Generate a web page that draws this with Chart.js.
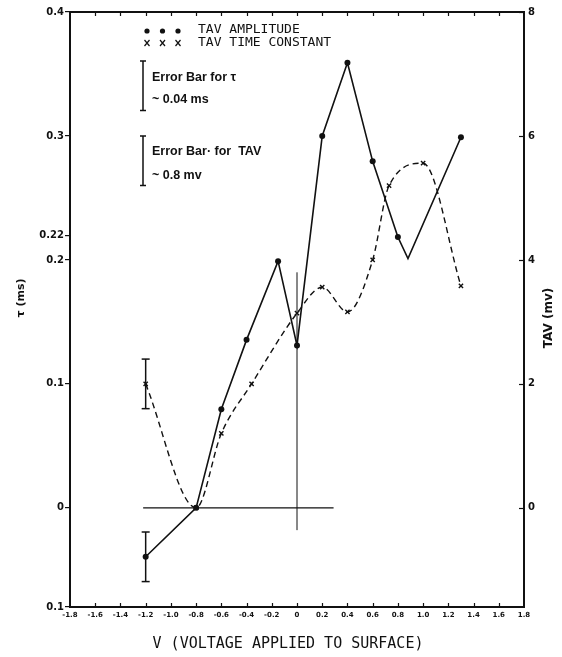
<!DOCTYPE html>
<html>
<head>
<meta charset="utf-8">
<script src="https://cdn.jsdelivr.net/npm/chart.js@4.4.1/dist/chart.umd.min.js"></script>
<style>
  html, body { margin: 0; padding: 0; background: #fff; }
</style>
</head>
<body>
<canvas id="tavChart" width="562" height="657"></canvas>
<script>
// TAV amplitude (mv, right axis) vs applied voltage
const tavVolts = [-1.2, -0.8, -0.6, -0.4, -0.15, 0, 0.2, 0.4, 0.6, 0.8, 0.88, 1.3];
const tavAmplitude = [-0.79, 0, 1.59, 2.71, 3.98, 2.62, 6.0, 7.18, 5.59, 4.37, 4.02, 5.98];
const tavBendVolt = 0.88; // the line bends here, no measured point

// TAV time constant tau (ms, left axis)
const tauVolts = [-1.2, -0.8, -0.6, -0.36, 0, 0.2, 0.4, 0.6, 0.73, 1.0, 1.3];
const tauValues = [0.1, 0, 0.06, 0.1, 0.157, 0.178, 0.158, 0.2, 0.26, 0.278, 0.179];

// error bars at V = -1.2
const errVolt = -1.2;
const tauErr = 0.02; // +- ms
const tavErr = 0.4;  // +- mv
const tauErrSpan = 0.04;
const tavErrSpan = 0.8;

// reference cross lines
const zeroLineVolts = [-1.22, 0.29];
const zeroLineTau = [-0.018, 0.19];

// tick labels
const xTickValues = [-1.8, -1.6, -1.4, -1.2, -1.0, -0.8, -0.6, -0.4, -0.2, 0, 0.2, 0.4, 0.6, 0.8, 1.0, 1.2, 1.4, 1.6, 1.8];
const xTickLabels = ["-1.8", "-1.6", "-1.4", "-1.2", "-1.0", "-0.8", "-0.6", "-0.4", "-0.2", "0", "0.2", "0.4", "0.6", "0.8", "1.0", "1.2", "1.4", "1.6", "1.8"];
const tauTickValues = [-0.08, 0, 0.1, 0.2, 0.22, 0.3, 0.4];
const tauTickLabels = ["0.1", "0", "0.1", "0.2", "0.22", "0.3", "0.4"];
const tavTickValues = [0, 2, 4, 6, 8];
const tavTickLabels = ["0", "2", "4", "6", "8"];

const INK = "#111";
const tickFont = { family: "'DejaVu Sans'", weight: "bold" };

function pts(xs, ys) {
  return xs.map((x, i) => ({ x: x, y: ys[i] }));
}

// frame, inward ticks, legend and axis titles
const decorations = {
  id: "decorations",
  afterDraw(chart) {
    const { ctx, chartArea: area, scales } = chart;
    const x = scales.x, yTau = scales.yTau, yTav = scales.yTav;
    ctx.save();
    ctx.strokeStyle = INK;
    ctx.fillStyle = INK;

    // top frame line
    ctx.lineWidth = 2;
    ctx.beginPath();
    ctx.moveTo(area.left, area.top);
    ctx.lineTo(area.right, area.top);
    ctx.stroke();

    // inward ticks top and bottom
    ctx.lineWidth = 1.2;
    xTickValues.slice(1, -1).forEach((v) => {
      const px = Math.round(x.getPixelForValue(v)) + 0.5;
      ctx.beginPath();
      ctx.moveTo(px, area.bottom);
      ctx.lineTo(px, area.bottom - 4);
      ctx.moveTo(px, area.top);
      ctx.lineTo(px, area.top + 4);
      ctx.stroke();
    });
    // inward ticks on right axis
    tavTickValues.forEach((v) => {
      const py = Math.round(yTav.getPixelForValue(v)) + 0.5;
      ctx.beginPath();
      ctx.moveTo(area.right, py);
      ctx.lineTo(area.right - 5, py);
      ctx.stroke();
    });

    // legend: markers
    const lx = 147;
    for (let i = 0; i < 3; i++) {
      ctx.beginPath();
      ctx.arc(lx + i * 15.5, 31, 2.6, 0, Math.PI * 2);
      ctx.fill();
      const cx = lx + i * 15.5, cy = 43;
      ctx.lineWidth = 1.2;
      ctx.beginPath();
      ctx.moveTo(cx - 2.5, cy - 3); ctx.lineTo(cx + 2.5, cy + 3);
      ctx.moveTo(cx + 2.5, cy - 3); ctx.lineTo(cx - 2.5, cy + 3);
      ctx.stroke();
    }
    ctx.font = "13px 'DejaVu Sans Mono'";
    ctx.textBaseline = "middle";
    ctx.textAlign = "left";
    ctx.fillText("TAV AMPLITUDE", 198, 30);
    ctx.fillText("TAV TIME CONSTANT", 198, 43);

    // legend: error bar keys, sized on the axes
    const tauLen = yTau.getPixelForValue(0) - yTau.getPixelForValue(tauErrSpan);
    const tavLen = yTav.getPixelForValue(0) - yTav.getPixelForValue(tavErrSpan);
    const bar = (bx, top, len) => {
      ctx.lineWidth = 1.5;
      ctx.beginPath();
      ctx.moveTo(bx, top); ctx.lineTo(bx, top + len);
      ctx.moveTo(bx - 3, top); ctx.lineTo(bx + 3, top);
      ctx.moveTo(bx - 3, top + len); ctx.lineTo(bx + 3, top + len);
      ctx.stroke();
    };
    bar(143, 61, tauLen);
    bar(143, 136, tavLen);
    ctx.font = "bold 12.5px 'Liberation Sans'";
    ctx.fillText("Error Bar for \u03c4", 152, 78);
    ctx.fillText("~ 0.04 ms", 152, 100);
    ctx.fillText("Error Bar\u00b7 for  TAV", 152, 152);
    ctx.fillText("~ 0.8 mv", 152, 176);

    // axis titles
    ctx.textAlign = "center";
    ctx.font = "15px 'DejaVu Sans Mono'";
    ctx.fillText("V (VOLTAGE APPLIED TO SURFACE)", 288, 644);

    ctx.font = "bold 11px 'DejaVu Sans'";
    ctx.save();
    ctx.translate(21, 298);
    ctx.rotate(-Math.PI / 2);
    ctx.fillText("\u03c4 (ms)", 0, 0);
    ctx.restore();

    ctx.font = "bold 12px 'DejaVu Sans'";
    ctx.save();
    ctx.translate(549, 318);
    ctx.rotate(-Math.PI / 2);
    ctx.fillText("TAV (mv)", 0, 0);
    ctx.restore();

    ctx.restore();
  },
};

const ctx = document.getElementById("tavChart").getContext("2d");

new Chart(ctx, {
  type: "line",
  data: {
    datasets: [
      {
        label: "TAV AMPLITUDE",
        data: pts(tavVolts, tavAmplitude),
        yAxisID: "yTav",
        borderColor: INK,
        borderWidth: 1.6,
        tension: 0,
        pointRadius: (c) => (c.raw && c.raw.x === tavBendVolt ? 0 : 3),
        pointBackgroundColor: INK,
        pointBorderColor: INK,
        pointBorderWidth: 0,
      },
      {
        label: "TAV TIME CONSTANT",
        data: pts(tauVolts, tauValues),
        yAxisID: "yTau",
        borderColor: INK,
        borderWidth: 1.4,
        borderDash: [6, 4],
        cubicInterpolationMode: "monotone",
        pointStyle: "crossRot",
        pointRadius: 3,
        pointBorderWidth: 1.4,
        pointBorderColor: INK,
      },
      {
        label: "tau error",
        data: [{ x: errVolt, y: tauValues[0] - tauErr }, { x: errVolt, y: tauValues[0] + tauErr }],
        yAxisID: "yTau",
        borderColor: INK,
        borderWidth: 1.5,
        pointStyle: "line",
        pointRadius: 4,
        pointBorderWidth: 1.5,
        pointBorderColor: INK,
      },
      {
        label: "tav error",
        data: [{ x: errVolt, y: tavAmplitude[0] - tavErr }, { x: errVolt, y: tavAmplitude[0] + tavErr }],
        yAxisID: "yTav",
        borderColor: INK,
        borderWidth: 1.5,
        pointStyle: "line",
        pointRadius: 4,
        pointBorderWidth: 1.5,
        pointBorderColor: INK,
      },
      {
        label: "zero line",
        data: [{ x: zeroLineVolts[0], y: 0 }, { x: zeroLineVolts[1], y: 0 }],
        yAxisID: "yTau",
        borderColor: INK,
        borderWidth: 1.2,
        pointRadius: 0,
      },
      {
        label: "zero volt line",
        data: [{ x: 0, y: zeroLineTau[0] }, { x: 0, y: zeroLineTau[1] }],
        yAxisID: "yTau",
        borderColor: INK,
        borderWidth: 1,
        pointRadius: 0,
      },
    ],
  },
  options: {
    responsive: false,
    animation: false,
    layout: { padding: { top: 12, left: 0, right: 0, bottom: 0 } },
    plugins: {
      legend: { display: false },
      tooltip: { enabled: false },
    },
    scales: {
      x: {
        type: "linear",
        min: -1.8,
        max: 1.8,
        afterBuildTicks: (s) => { s.ticks = xTickValues.map((v) => ({ value: v })); },
        afterFit: (s) => { s.height = 50; },
        grid: { display: false, drawTicks: false },
        border: { display: true, color: INK, width: 2 },
        ticks: {
          autoSkip: false,
          maxRotation: 0,
          padding: 4,
          color: INK,
          font: { ...tickFont, size: 7 },
          callback: (v, i) => xTickLabels[i],
        },
      },
      yTau: {
        type: "linear",
        position: "left",
        min: -0.08,
        max: 0.4,
        afterBuildTicks: (s) => { s.ticks = tauTickValues.map((v) => ({ value: v })); },
        afterFit: (s) => { s.width = 70; },
        grid: { display: true, drawOnChartArea: false, drawTicks: true, tickLength: 5, color: INK, lineWidth: 1.2 },
        border: { display: true, color: INK, width: 2 },
        ticks: {
          padding: 1,
          color: INK,
          font: { ...tickFont, size: 10 },
          callback: (v, i) => tauTickLabels[i],
        },
      },
      yTav: {
        type: "linear",
        position: "right",
        min: -1.6,
        max: 8,
        afterBuildTicks: (s) => { s.ticks = tavTickValues.map((v) => ({ value: v })); },
        afterFit: (s) => { s.width = 38; },
        grid: { display: false, drawTicks: false },
        border: { display: true, color: INK, width: 2 },
        ticks: {
          padding: 4,
          color: INK,
          font: { ...tickFont, size: 10 },
          callback: (v, i) => tavTickLabels[i],
        },
      },
    },
  },
  plugins: [decorations],
});
</script>
</body>
</html>
